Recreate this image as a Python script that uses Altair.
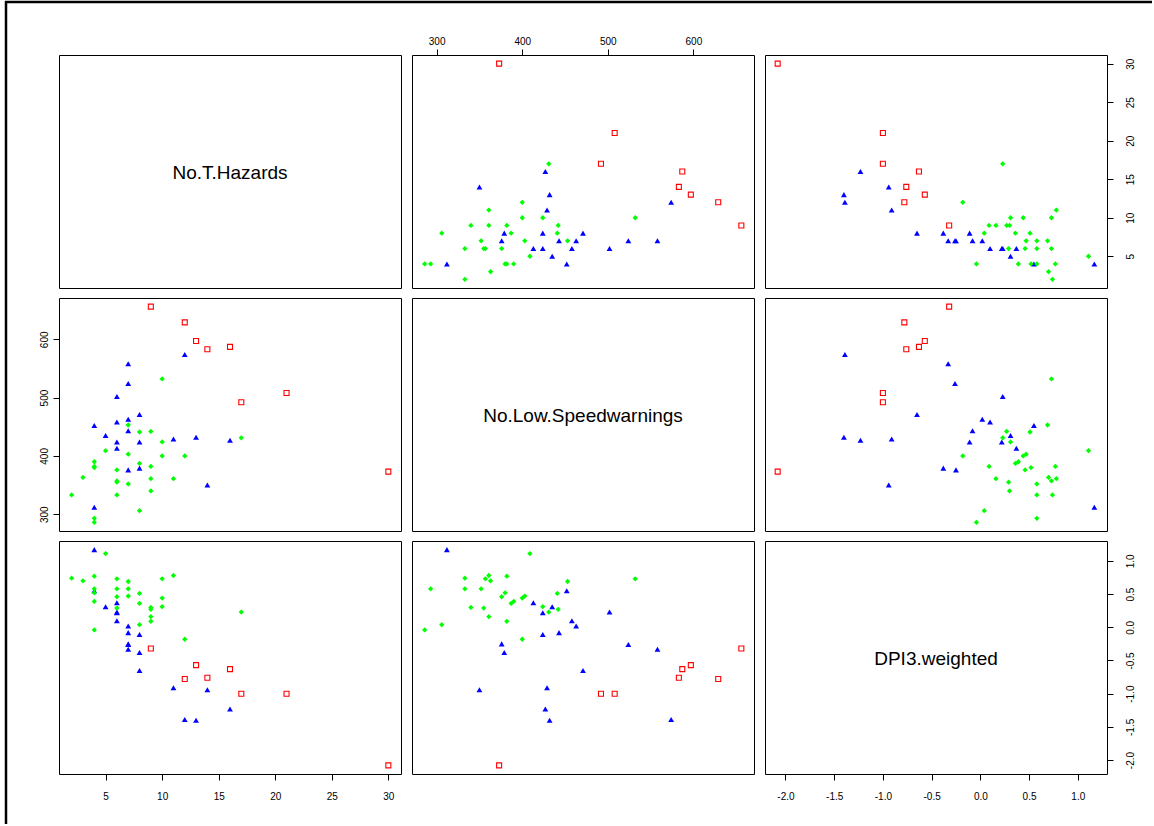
import altair as alt
import pandas as pd

# ---- data (pairs plot of three variables) ----
groups = ["red"] * 8 + ["blue"] * 20 + ["green"] * 28
hazards = [9, 12, 13, 14, 16, 17, 21, 30,
           4, 4, 5, 6, 6, 6, 6, 7, 7, 7, 7, 7, 8, 8, 8, 11, 12, 13, 14, 16,
           2, 3, 4, 4, 4, 4, 4, 5, 6, 6, 6, 6, 7, 7, 7, 8, 8, 8, 9, 9, 9, 9, 10, 10, 10, 11, 12, 17]
lowspeed = [656, 629, 597, 583, 587, 492, 508, 373,
            312, 452, 435, 502, 458, 424, 413, 558, 524, 463, 443, 376, 471, 424, 379, 429, 574, 432, 350, 427,
            333, 363, 390, 382, 380, 293, 286, 409, 376, 357, 355, 333, 453, 403, 352, 441, 387, 306, 442, 382,
            361, 340, 532, 424, 400, 361, 400, 431]
dpi = [-0.32, -0.78, -0.57, -0.76, -0.63, -1.00, -1.00, -2.08,
       1.17, 0.55, 0.31, 0.23, 0.10, 0.22, 0.37, -0.33, -0.26, 0.02, -0.08, -0.25, -0.65, -0.11, -0.38,
       -0.91, -1.39, -1.40, -0.94, -1.23,
       0.74, 0.70, 0.39, 0.77, 0.52, 0.58, -0.04, 1.11, 0.46, 0.73, 0.29, 0.58, 0.69, 0.47, 0.58, 0.51,
       0.36, 0.04, 0.27, 0.09, 0.16, 0.30, 0.73, 0.31, 0.44, 0.78, -0.18, 0.23]

var_names = ["No.T.Hazards", "No.Low.Speedwarnings", "DPI3.weighted"]
hazard_ticks = [5, 10, 15, 20, 25, 30]
lowspeed_ticks = [300, 400, 500, 600]
dpi_ticks = [-2.0, -1.5, -1.0, -0.5, 0.0, 0.5, 1.0]

df = pd.DataFrame({"hazards": hazards, "lowspeed": lowspeed, "dpi": dpi, "grp": groups})

FONT = "Liberation Sans"
W, H = 342, 233


def r_domain(vals):
    lo, hi = min(vals), max(vals)
    pad = (hi - lo) * 0.04
    return [lo - pad, hi + pad]


doms = {"hazards": r_domain(hazards), "lowspeed": r_domain(lowspeed), "dpi": r_domain(dpi)}
ticks = {"hazards": hazard_ticks, "lowspeed": lowspeed_ticks, "dpi": dpi_ticks}


def scale(v):
    return alt.Scale(domain=doms[v], nice=False, zero=False)


def axis(orient, v):
    kw = dict(orient=orient, values=ticks[v], tickSize=6, tickColor="black", tickWidth=1,
              domain=False, grid=False, title=None, labelColor="black", labelFont=FONT,
              labelFontSize=10, labelOverlap=False, labelFlush=False)
    if v == "dpi":
        kw["labelExpr"] = "replace(format(datum.value, '.1f'), '\u2212', '-')"
    if orient == "top":
        kw.update(labelPadding=3, labelAngle=0, labelAlign="center", labelBaseline="bottom")
    elif orient == "bottom":
        kw.update(labelPadding=11, labelAngle=0, labelAlign="center", labelBaseline="top")
    elif orient == "left":
        kw.update(labelPadding=4, labelAngle=-90, labelAlign="center", labelBaseline="bottom")
    else:
        kw.update(labelPadding=12, labelAngle=-90, labelAlign="center", labelBaseline="top")
    return alt.Axis(**kw)


def scatter(xv, yv, xaxis=None, yaxis=None):
    base = alt.Chart(df).encode(
        x=alt.X(f"{xv}:Q", scale=scale(xv), axis=xaxis),
        y=alt.Y(f"{yv}:Q", scale=scale(yv), axis=yaxis),
    )
    red = base.transform_filter("datum.grp == 'red'").mark_point(
        shape="square", filled=False, color="#FF0000", size=25, strokeWidth=1.1, opacity=1)
    blue = base.transform_filter("datum.grp == 'blue'").mark_point(
        shape="triangle-up", filled=True, color="#0000FF", size=34, opacity=1)
    green = base.transform_filter("datum.grp == 'green'").mark_point(
        shape="diamond", filled=True, color="#00FF00", size=28, opacity=1)
    return alt.layer(red, blue, green).properties(width=W, height=H)


def label(name):
    return alt.Chart(pd.DataFrame({"t": [name]})).mark_text(
        font=FONT, fontSize=19, color="black", align="center", baseline="middle"
    ).encode(text="t:N", x=alt.value(W / 2), y=alt.value(H / 2 + 1))


frame_df = pd.DataFrame({"k": [0]})
vline = alt.Chart(frame_df).mark_rule(color="black", strokeWidth=2.5).encode(
    x=alt.value(-53), y=alt.value(-54), y2=alt.value(769))
hline = alt.Chart(frame_df).mark_rule(color="black", strokeWidth=2.5).encode(
    y=alt.value(-53), x=alt.value(-54), x2=alt.value(1093))

p11 = alt.layer(label(var_names[0]), vline, hline).properties(width=W, height=H)
p12 = scatter("lowspeed", "hazards", xaxis=axis("top", "lowspeed"))
p13 = scatter("dpi", "hazards", yaxis=axis("right", "hazards"))
p21 = scatter("hazards", "lowspeed", yaxis=axis("left", "lowspeed"))
p22 = label(var_names[1]).properties(width=W, height=H)
p23 = scatter("dpi", "lowspeed")
p31 = scatter("hazards", "dpi", xaxis=axis("bottom", "hazards"))
p32 = scatter("lowspeed", "dpi")
ghost = alt.Chart(df).mark_point(opacity=0).encode(
    x=alt.X("dpi:Q", scale=scale("dpi"), axis=axis("bottom", "dpi")),
    y=alt.Y("dpi:Q", scale=scale("dpi"), axis=axis("right", "dpi")),
)
p33 = alt.layer(ghost, label(var_names[2])).properties(width=W, height=H)

chart = alt.concat(
    p11, p12, p13, p21, p22, p23, p31, p32, p33,
    columns=3, spacing={"row": 10, "column": 11}, bounds="flush",
).properties(
    padding={"left": 3, "top": -1, "right": 0, "bottom": 0},
    background="white",
).configure_view(stroke="black", strokeWidth=1)

chart.save("out.html", embed_options={"renderer": "svg", "actions": False})
